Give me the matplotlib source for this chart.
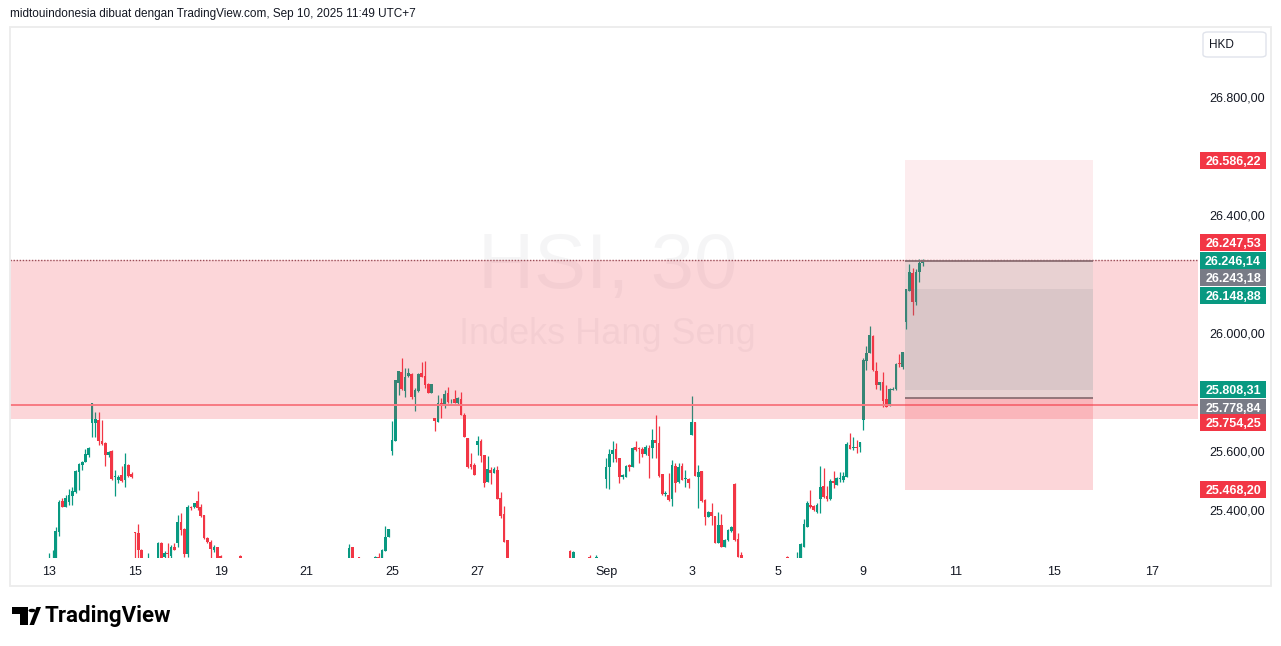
import numpy as np
import matplotlib
matplotlib.use("Agg")
import matplotlib.pyplot as plt
from matplotlib.patches import Rectangle, FancyBboxPatch, Circle, Polygon

# ── data: HSI 30m bars, index 0 = first bar of Aug 13 (13 bars per session) ──
# None = bar lies completely below the visible price range
opens = [
    25180, 25230, 25225, 25327, 25430, 25409, 25428, 25447, 25462, 25530, 25553, 25564, 25586,   # Aug 13
    25696, 25696, 25705, 25635, 25626, 25586, 25601, 25511, 25502, 25519, 25502, 25553, 25522,   # Aug 14
    25323, 25323, 25264, None, 25210, None, None, 25225, 25289, 25242, 25253, 25244, 25276,      # Aug 15
    25289, 25360, 25335, 25251, 25411, 25409, 25430, 25411, 25383, 25304, 25293, 25264, 25276,   # Aug 18
    25245, None, None, None, None, None, 25243, None, None, None, None, None, None,              # Aug 19
    None, None, None, None, None, None, None, None, None, None, None, None, None,                # Aug 20
    None, None, None, None, None, None, None, None, None, None, None, None, None,                # Aug 21
    25220, 25273, None, 25241, None, None, None, None, 25238, 25240, 25225, 25262, 25309,        # Aug 22
    25601, 25635, 25831, 25867, 25804, 25854, 25861, 25784, 25804, 25863, 25854, 25827, 25797,   # Aug 25
    25711, 25699, 25764, 25759, 25798, 25768, 25775, 25764, 25775, 25722, 25645, 25556, 25553,   # Aug 26
    25620, 25635, 25586, 25496, 25536, 25527, 25536, 25440, 25386, 25298, None, None, None,      # Aug 27
    None, None, None, None, None, None, None, None, None, None, None, None, None,                # Aug 28
    None, None, 25262, 25225, None, None, None, None, 25242, None, 25236, None, None,            # Aug 29
    25504, 25545, 25590, 25606, 25575, 25511, 25513, 25553, 25547, 25613, 25607, 25606, 25590,   # Sep 1
    25609, 25609, 25637, 25628, 25522, 25455, 25451, 25436, 25549, 25496, 25549, 25506, 25504,   # Sep 2
    25654, 25700, 25513, 25533, 25434, 25377, 25394, 25380, 25287, 25349, 25276, 25298, 25330,   # Sep 3
    25488, 25301, 25247, None, None, None, None, None, None, None, None, None, None,             # Sep 4
    None, None, None, 25242, None, None, 25220, 25225, 25276, 25341, 25417, 25414, 25394,        # Sep 5
    25436, 25481, 25448, 25436, 25499, 25485, 25506, 25502, 25513, 25620, 25611, 25613, 25612,   # Sep 8
    25705, 25906, 25933, 25990, 25872, 25824, 25835, 25775, 25753, 25808, 25809, 25896, 25884,   # Sep 9
    26038, 26144, 26205, 26106, 26208, 26238,                                                    # Sep 10
]
highs = [
    25255, 25264, 25343, 25434, 25440, 25451, 25471, 25477, 25536, 25558, 25567, 25606, 25612,
    25762, 25733, 25733, 25705, 25631, 25601, 25603, 25536, 25519, 25549, 25592, 25556, 25530,
    25325, 25353, 25267, None, 25255, None, None, 25290, 25293, 25261, 25287, 25281, 25287,
    25383, 25391, 25338, 25417, 25415, 25425, 25464, 25419, 25383, 25309, 25298, 25281, 25276,
    25246, None, None, None, None, None, 25246, None, None, None, None, None, None,
    None, None, None, None, None, None, None, None, None, None, None, None, None,
    None, None, None, None, None, None, None, None, None, None, None, None, None,
    25285, 25273, None, 25242, None, None, None, None, 25243, 25253, 25267, 25346, 25335,
    25703, 25841, 25871, 25914, 25880, 25880, 25866, 25813, 25866, 25902, 25905, 25831, 25827,
    25711, 25790, 25780, 25807, 25818, 25776, 25807, 25784, 25801, 25728, 25645, 25592, 25558,
    25651, 25640, 25586, 25583, 25547, 25545, 25549, 25462, 25415, 25298, None, None, None,
    None, None, None, None, None, None, None, None, None, None, None, None, None,
    None, None, 25266, 25262, None, None, None, None, 25246, None, 25248, None, None,
    25575, 25606, 25634, 25628, 25575, 25522, 25553, 25556, 25615, 25634, 25615, 25615, 25620,
    25620, 25674, 25722, 25685, 25522, 25464, 25524, 25570, 25561, 25558, 25561, 25536, 25507,
    25787, 25700, 25553, 25533, 25436, 25398, 25423, 25380, 25394, 25386, 25301, 25334, 25346,
    25493, 25323, 25259, None, None, None, None, None, None, None, None, None, None,
    None, None, None, 25243, None, None, 25259, 25289, 25368, 25432, 25468, 25417, 25425,
    25549, 25541, 25481, 25504, 25533, 25511, 25529, 25530, 25632, 25662, 25649, 25637, 25631,
    25914, 25956, 26024, 25993, 25903, 25835, 25869, 25824, 25812, 25818, 25897, 25929, 25937,
    26149, 26234, 26219, 26216, 26250, 26250,
]
lows = [
    25150, 25200, 25200, 25313, 25409, 25409, 25417, 25417, 25457, 25468, 25536, 25562, 25581,
    25649, 25649, 25620, 25620, 25549, 25581, 25502, 25447, 25493, 25496, 25479, 25511, 25507,
    25200, 25200, 25200, None, 25200, None, None, 25200, 25200, 25200, 25200, 25200, 25264,
    25276, 25315, 25242, 25242, 25400, 25406, 25400, 25377, 25301, 25289, 25200, 25258, 25200,
    25200, None, None, None, None, None, 25220, None, None, None, None, None, None,
    None, None, None, None, None, None, None, None, None, None, None, None, None,
    None, None, None, None, None, None, None, None, None, None, None, None, None,
    25200, 25200, None, 25220, None, None, None, None, 25220, 25220, 25220, 25262, 25309,
    25586, 25635, 25790, 25807, 25782, 25852, 25776, 25737, 25801, 25850, 25815, 25796, 25796,
    25669, 25699, 25711, 25747, 25762, 25762, 25764, 25756, 25722, 25646, 25541, 25538, 25519,
    25586, 25564, 25479, 25496, 25488, 25527, 25437, 25374, 25293, 25200, None, None, None,
    None, None, None, None, None, None, None, None, None, None, None, None, None,
    None, None, 25200, 25200, None, None, None, None, 25220, None, 25220, None, None,
    25474, 25470, 25564, 25564, 25490, 25504, 25511, 25533, 25545, 25601, 25560, 25579, 25587,
    25510, 25575, 25575, 25513, 25451, 25448, 25432, 25414, 25462, 25490, 25502, 25479, 25474,
    25654, 25515, 25406, 25428, 25349, 25375, 25349, 25287, 25287, 25276, 25276, 25296, 25327,
    25296, 25239, 25210, None, None, None, None, None, None, None, None, None, None,
    None, None, None, 25225, None, None, 25210, 25215, 25276, 25341, 25406, 25398, 25389,
    25389, 25440, 25432, 25434, 25474, 25485, 25496, 25496, 25513, 25606, 25603, 25592, 25598,
    25671, 25875, 25933, 25872, 25809, 25807, 25750, 25748, 25753, 25807, 25807, 25886, 25878,
    26014, 26144, 26061, 26095, 26174, 26227,
]
closes = [
    25230, 25232, 25329, 25428, 25409, 25440, 25451, 25464, 25533, 25556, 25564, 25590, 25609,
    25762, 25708, 25635, 25624, 25586, 25598, 25504, 25513, 25513, 25500, 25556, 25515, 25511,
    25321, 25264, 25220, None, 25230, None, None, 25287, 25225, 25253, 25251, 25276, 25264,
    25360, 25332, 25251, 25411, 25406, 25425, 25406, 25380, 25304, 25293, 25267, 25276, 25225,
    25220, None, None, None, None, None, 25237, None, None, None, None, None, None,
    None, None, None, None, None, None, None, None, None, None, None, None, None,
    None, None, None, None, None, None, None, None, None, None, None, None, None,
    25270, 25220, None, 25238, None, None, None, None, 25242, 25232, 25264, 25309, 25335,
    25637, 25841, 25871, 25809, 25852, 25865, 25782, 25807, 25861, 25850, 25824, 25796, 25827,
    25703, 25764, 25759, 25793, 25767, 25770, 25764, 25779, 25722, 25648, 25547, 25547, 25519,
    25633, 25583, 25493, 25538, 25527, 25538, 25437, 25381, 25293, 25220, None, None, None,
    None, None, None, None, None, None, None, None, None, None, None, None, None,
    None, None, 25230, 25258, None, None, None, None, 25238, None, 25242, None, None,
    25545, 25590, 25603, 25572, 25513, 25519, 25549, 25545, 25609, 25603, 25606, 25590, 25613,
    25584, 25637, 25626, 25515, 25454, 25457, 25434, 25553, 25493, 25547, 25502, 25508, 25490,
    25700, 25515, 25530, 25432, 25375, 25394, 25380, 25287, 25349, 25276, 25298, 25332, 25343,
    25298, 25242, 25225, None, None, None, None, None, None, None, None, None, None,
    None, None, None, 25238, None, None, 25230, 25285, 25353, 25425, 25411, 25400, 25417,
    25479, 25443, 25436, 25499, 25490, 25507, 25508, 25515, 25624, 25606, 25613, 25611, 25630,
    25908, 25933, 25993, 25875, 25824, 25835, 25771, 25750, 25809, 25810, 25895, 25894, 25934,
    26149, 26208, 26106, 26208, 26236, 26246.14,
]

date_labels = ["13", "15", "19", "21", "25", "27", "Sep", "3", "5", "9", "11", "15", "17"]
date_bars = [0, 26, 52, 78, 104, 130, 169, 195, 221, 247, 274.9, 304.9, 334.6]
# 25.800 / 26.200 / 27.000 sit under the price tags in the original and are not drawn
price_ticks = [25400, 25600, 26000, 26400, 26600, 26800]

zone_top, zone_bottom = 26247.53, 25710.0        # resistance zone
level_line = 25754.25
pos_target, pos_entry, pos_stop = 26586.22, 26243.18, 25468.20
pos_mid_low = 25778.84
inner_top, inner_bottom = 26148.88, 25808.31
last_price = 26246.14
pos_left, pos_right = 259.7, 316.8                 # bar index span of the position tool

label_prices = [26586.22, 26247.53, 26246.14, 26243.18, 26148.88,
                25808.31, 25778.84, 25754.25, 25468.20]
label_kinds = ["red", "red", "green", "gray", "green", "green", "gray", "red", "red"]

# ── style ─────────────────────────────────────────────────────────────────────
W, H = 1281, 646
UP, DOWN, GRAY = "#089981", "#f23645", "#787b86"
TXT = "#131722"
FONT = "Liberation Sans"
label_shift_px = [0, -17, 0, 16, 6, 0, 9, 17, 0]
kind_color = {"red": DOWN, "green": UP, "gray": GRAY}

def fmt_id(v):
    s = f"{v:,.2f}"
    return s.replace(",", "#").replace(".", ",").replace("#", ".")

fig = plt.figure(figsize=(W / 100, H / 100), dpi=100)
fig.patch.set_facecolor("white")
ax = fig.add_axes([10 / W, (H - 558) / H, 1188 / W, 531 / H])
ax.set_facecolor("white")
for s in ax.spines.values():
    s.set_visible(False)

ax.set_xlim(-11.9, 348.6)
ax.set_ylim(25237.3, 27037.3)

o = np.array(opens, dtype=float)
h = np.array(highs, dtype=float)
l = np.array(lows, dtype=float)
c = np.array(closes, dtype=float)
x = np.arange(len(o))
ok = ~np.isnan(o)
x, o, h, l, c = x[ok], o[ok], h[ok], l[ok], c[ok]
col = np.where(c >= o, UP, DOWN)

# watermark
ax.text(0.503, 0.548, "HSI, 30", transform=ax.transAxes, ha="center", va="center",
        fontsize=56, color=GRAY, alpha=0.07, family=FONT, zorder=0.5)
ax.text(0.503, 0.420, "Indeks Hang Seng", transform=ax.transAxes, ha="center", va="center",
        fontsize=26, color=GRAY, alpha=0.07, family=FONT, zorder=0.5)

# candles
ax.vlines(x, l, h, colors=col, linewidth=0.9, zorder=2)
body = np.maximum(np.abs(c - o), 3.0)
ax.bar(x, body, bottom=np.minimum(o, c), width=0.82, color=col, linewidth=0, zorder=2)

# resistance zone + level line
ax.axhspan(zone_bottom, zone_top, color=DOWN, alpha=0.2, linewidth=0, zorder=3)
ax.axhline(level_line, color="#f77a82", linewidth=1.4, zorder=3.2)
ax.axhline(last_price, color="#9a4e58", linewidth=1.0, linestyle=(0, (1, 1.2)), zorder=3.3)

# position tool
bw = pos_right - pos_left
ax.add_patch(Rectangle((pos_left, pos_entry), bw, pos_target - pos_entry,
                       facecolor=DOWN, alpha=0.09, linewidth=0, zorder=4))
ax.add_patch(Rectangle((pos_left, pos_mid_low), bw, pos_entry - pos_mid_low,
                       facecolor=UP, alpha=0.08, linewidth=0, zorder=4))
ax.add_patch(Rectangle((pos_left, inner_bottom), bw, inner_top - inner_bottom,
                       facecolor=GRAY, alpha=0.12, linewidth=0, zorder=4.1))
ax.add_patch(Rectangle((pos_left, pos_stop), bw, pos_mid_low - pos_stop,
                       facecolor=DOWN, alpha=0.2, linewidth=0, zorder=4))
ax.hlines([pos_entry, pos_mid_low], pos_left, pos_right, colors="#8c6f74",
          linewidth=1.3, zorder=4.5)

# axes ticks
ax.yaxis.tick_right()
ax.set_yticks(price_ticks, labels=[fmt_id(v) for v in price_ticks])
ax.tick_params(axis="y", length=0, pad=8, labelsize=9, labelcolor=TXT)
ax.set_xticks(date_bars, labels=date_labels)
ax.tick_params(axis="x", length=0, pad=6, labelsize=9, labelcolor=TXT)
for t in ax.get_xticklabels() + ax.get_yticklabels():
    t.set_family(FONT)

# price labels on the scale
fig.canvas.draw()
for p, kind, sh in zip(label_prices, label_kinds, label_shift_px):
    yd = ax.transData.transform((0, p))[1] - sh
    fig.add_artist(Rectangle((1200 / W, (yd - 8.5) / H), 66 / W, 17 / H,
                             transform=fig.transFigure, facecolor=kind_color[kind],
                             edgecolor="none", zorder=10))
    fig.text(1233 / W, yd / H, fmt_id(p), ha="center", va="center_baseline",
             fontsize=9, fontweight="bold", color="white", family=FONT, zorder=11)

# currency box
fig.add_artist(FancyBboxPatch((1203 / W, (H - 57) / H), 63 / W, 25 / H,
                              boxstyle="round,pad=0,rounding_size=0.004",
                              transform=fig.transFigure, facecolor="white",
                              edgecolor="#e0e3eb", linewidth=1.0, zorder=10))
fig.text(1221 / W, (H - 45) / H, "HKD", ha="center", va="center", fontsize=8.5,
         color=TXT, family=FONT, zorder=11)

# outer frame
fig.add_artist(Rectangle((9.5 / W, (H - 586) / H), 1261.5 / W, 559.5 / H,
                         transform=fig.transFigure, facecolor="none",
                         edgecolor="#ececec", linewidth=1.3, zorder=12))

# header
fig.text(10 / W, (H - 14) / H,
         "midtouindonesia dibuat dengan TradingView.com, Sep 10, 2025 11:49 UTC+7",
         ha="left", va="center", fontsize=8.5, color=TXT, family=FONT)

# TradingView logo
fig.add_artist(Rectangle((12 / W, (H - 614) / H), 16 / W, 7 / H, transform=fig.transFigure,
                         facecolor="black", edgecolor="none"))
fig.add_artist(Rectangle((20 / W, (H - 625) / H), 8 / W, 18 / H, transform=fig.transFigure,
                         facecolor="black", edgecolor="none"))
fig.add_artist(Circle((32 / W, (H - 610.5) / H), 3.5 / W, transform=fig.transFigure,
                      facecolor="black", edgecolor="none"))
fig.add_artist(Polygon([(34 / W, (H - 625) / H), (29.5 / W, (H - 625) / H),
                        (36.5 / W, (H - 607) / H), (41 / W, (H - 607) / H)],
                       closed=True, transform=fig.transFigure, facecolor="black", edgecolor="none"))
fig.text(44 / W, (H - 616) / H, "TradingView", ha="left", va="center", fontsize=16,
         fontweight="bold", color="black", family="Roboto")

fig.savefig("out.png", dpi=100, facecolor="white")
